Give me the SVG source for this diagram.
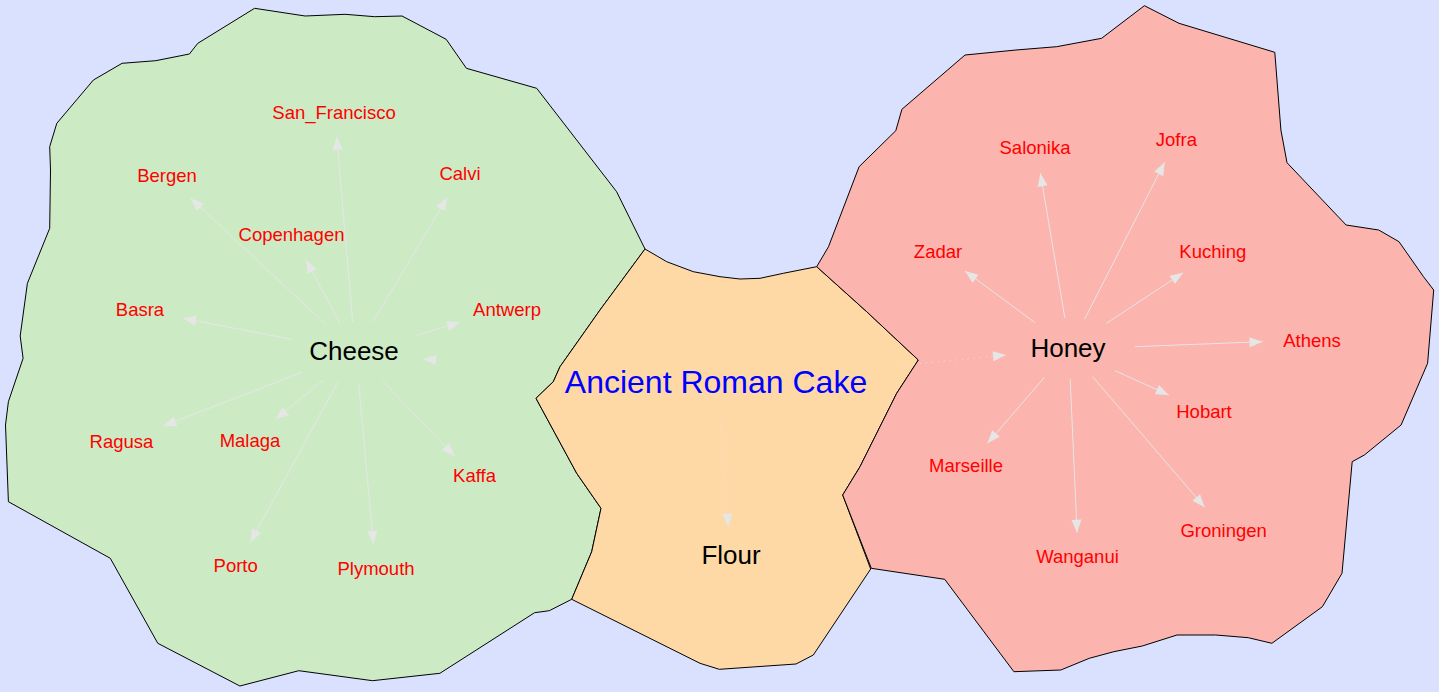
<svg xmlns="http://www.w3.org/2000/svg" width="1439" height="692" viewBox="0 0 1439 692">
  <style>
    .region { stroke: #000000; stroke-width: 1; stroke-linejoin: round; }
    .edge { fill: none; stroke: #e6e6e6; stroke-width: 1; }
    .dotted { stroke-dasharray: 1 5; }
    .hub { font-family: "Liberation Sans", Arial, sans-serif; font-size: 26px; fill: #000000; text-anchor: middle; }
    .root { font-family: "Liberation Sans", Arial, sans-serif; font-size: 32px; fill: #0000ff; text-anchor: middle; }
    .leaf { font-family: "Liberation Sans", Arial, sans-serif; font-size: 18.5px; fill: #ff0000; text-anchor: middle; }
  </style>
  <defs>
    <marker id="arrow" markerUnits="userSpaceOnUse" markerWidth="14" markerHeight="10" refX="13" refY="5" orient="auto" overflow="visible">
      <path d="M0,0 L13,5 L0,10 Z" fill="#e6e6e6" stroke="none"/>
    </marker>
  </defs>

  <rect width="1439" height="692" fill="#dae1ff"/>

  <!-- territories -->
  <g id="regions">
    <polygon id="region-cheese" class="region" fill="#ccebc5" points="254.6,8.3 305.2,16 345.1,14.3 374.6,16.7 402,16 446.2,39.3 466.4,68.3 536.7,88.3 616.6,191.7 645,249 600,310 560,366.7 553.3,381.7 536,398.3 576.7,473.3 601,508.3 591.7,551.7 571.7,599.3 549.3,610.7 534.6,612.7 439.9,673.3 372.5,680.7 298.8,670.7 239.9,686 157.8,643.3 110.3,558.3 8.4,501.7 5.5,425 8.4,401.7 23.1,358.3 20.2,336 27.4,283.3 49.7,228.3 50.5,170 49.7,146.7 56.8,123.3 93.4,80 122.1,63.3 155.7,60.7 189.4,54 197.8,43.3"/>
    <polygon id="region-cake" class="region" fill="#fed9a6" points="645,249 666.7,261.7 693.3,271.7 720,276.7 740,279 760,278.3 783.3,273.3 816.7,266.7 866.7,311.7 918.3,360 896.7,393.3 860,466.7 842.7,495 870.7,569 813.3,655 796,664 719.3,669.3 700,663.3 571.7,599.3 591.7,551.7 601,508.3 576.7,473.3 536,398.3 553.3,381.7 560,366.7 600,310"/>
    <polygon id="region-honey" class="region" fill="#fbb4ae" points="816.7,266.7 828.5,246.7 859.1,166.7 895.8,130.7 901.9,109.3 965,55 1016,50 1056.7,46.7 1101.6,38.3 1144.4,5.7 1179,23.3 1274.8,52.3 1280.9,130 1287,162.7 1346.1,225 1378.7,230 1399,241.7 1423.5,276.7 1433.7,290 1427.6,363.3 1401.1,425 1364.4,455 1352.2,461.7 1342,573.3 1322.4,606.7 1271.9,643.3 1248.3,637.7 1215.7,635 1177,635 1142.3,646 1113.8,651.7 1089.3,658.3 1060.8,670 1013.9,671.7 944.7,579.3 871.3,568.3 842.7,495 860,466.7 896.7,393.3 918.3,360 866.7,311.7"/>
  </g>

  <!-- connectors -->
  <g id="edges" marker-end="url(#arrow)">
    <line class="edge dotted" x1="524" y1="367" x2="423" y2="359" marker-end="url(#arrow)"/>
    <line class="edge dotted" x1="896" y1="366" x2="1006" y2="355" marker-end="url(#arrow)"/>
    <line class="edge dotted" x1="720" y1="418" x2="728.3" y2="526.7" marker-end="url(#arrow)"/>

    <line class="edge" x1="352.7" y1="321.7" x2="336.7" y2="136.7" marker-end="url(#arrow)"/>
    <line class="edge" x1="325.4" y1="324" x2="190.7" y2="198.3" marker-end="url(#arrow)"/>
    <line class="edge" x1="339.7" y1="322.7" x2="306" y2="260" marker-end="url(#arrow)"/>
    <line class="edge" x1="372.5" y1="322.7" x2="447.4" y2="197.3" marker-end="url(#arrow)"/>
    <line class="edge" x1="291.7" y1="339.3" x2="183.1" y2="318.3" marker-end="url(#arrow)"/>
    <line class="edge" x1="414.6" y1="336" x2="460" y2="322.3" marker-end="url(#arrow)"/>
    <line class="edge" x1="302.2" y1="372.3" x2="163.3" y2="426" marker-end="url(#arrow)"/>
    <line class="edge" x1="323.3" y1="380" x2="275.7" y2="419.3" marker-end="url(#arrow)"/>
    <line class="edge" x1="338" y1="381.7" x2="250.4" y2="542.3" marker-end="url(#arrow)"/>
    <line class="edge" x1="358.6" y1="382.7" x2="373.4" y2="544" marker-end="url(#arrow)"/>
    <line class="edge" x1="382.2" y1="380.7" x2="454.6" y2="456" marker-end="url(#arrow)"/>

    <line class="edge" x1="1064.9" y1="318.3" x2="1040.4" y2="173.3" marker-end="url(#arrow)"/>
    <line class="edge" x1="1084.5" y1="319.3" x2="1164.7" y2="162.3" marker-end="url(#arrow)"/>
    <line class="edge" x1="1035.1" y1="322.7" x2="965" y2="271" marker-end="url(#arrow)"/>
    <line class="edge" x1="1106.5" y1="323.3" x2="1183.1" y2="272.7" marker-end="url(#arrow)"/>
    <line class="edge" x1="1135" y1="346.7" x2="1262.5" y2="341.7" marker-end="url(#arrow)"/>
    <line class="edge" x1="1115" y1="370.7" x2="1168.8" y2="395" marker-end="url(#arrow)"/>
    <line class="edge" x1="1044.5" y1="377.3" x2="987.5" y2="443.3" marker-end="url(#arrow)"/>
    <line class="edge" x1="1070.2" y1="379.3" x2="1077.1" y2="532.7" marker-end="url(#arrow)"/>
    <line class="edge" x1="1092.6" y1="376.7" x2="1204.7" y2="507.3" marker-end="url(#arrow)"/>
  </g>

  <!-- central node -->
  <g id="node-cake"><text class="root" x="716" y="393">Ancient Roman Cake</text></g>

  <!-- ingredient nodes -->
  <g id="node-cheese"><text class="hub" x="354" y="360">Cheese</text></g>
  <g id="node-honey"><text class="hub" x="1068" y="357">Honey</text></g>
  <g id="node-flour"><text class="hub" x="731" y="564">Flour</text></g>

  <!-- cheese towns -->
  <g id="node-san-francisco"><text class="leaf" x="334" y="119">San_Francisco</text></g>
  <g id="node-bergen"><text class="leaf" x="167" y="182">Bergen</text></g>
  <g id="node-calvi"><text class="leaf" x="460" y="180">Calvi</text></g>
  <g id="node-copenhagen"><text class="leaf" x="291.5" y="241">Copenhagen</text></g>
  <g id="node-basra"><text class="leaf" x="140" y="316">Basra</text></g>
  <g id="node-antwerp"><text class="leaf" x="507" y="316">Antwerp</text></g>
  <g id="node-ragusa"><text class="leaf" x="121.5" y="448">Ragusa</text></g>
  <g id="node-malaga"><text class="leaf" x="250" y="446.5">Malaga</text></g>
  <g id="node-kaffa"><text class="leaf" x="474.5" y="482">Kaffa</text></g>
  <g id="node-porto"><text class="leaf" x="235.7" y="571.5">Porto</text></g>
  <g id="node-plymouth"><text class="leaf" x="376" y="575">Plymouth</text></g>

  <!-- honey towns -->
  <g id="node-salonika"><text class="leaf" x="1035" y="154">Salonika</text></g>
  <g id="node-jofra"><text class="leaf" x="1176.4" y="145.5">Jofra</text></g>
  <g id="node-zadar"><text class="leaf" x="938" y="258">Zadar</text></g>
  <g id="node-kuching"><text class="leaf" x="1212.8" y="258">Kuching</text></g>
  <g id="node-athens"><text class="leaf" x="1312" y="346.5">Athens</text></g>
  <g id="node-hobart"><text class="leaf" x="1204" y="418">Hobart</text></g>
  <g id="node-marseille"><text class="leaf" x="966" y="472">Marseille</text></g>
  <g id="node-wanganui"><text class="leaf" x="1077.5" y="563">Wanganui</text></g>
  <g id="node-groningen"><text class="leaf" x="1223.6" y="536.5">Groningen</text></g>
</svg>
